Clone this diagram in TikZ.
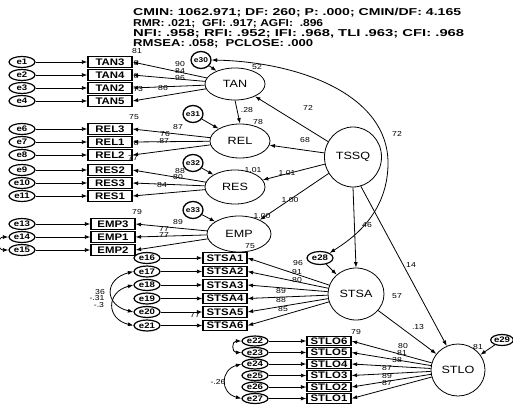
\documentclass[tikz,border=0pt]{standalone}
\usepackage{graphicx}
\usepackage{fontspec}
\setmainfont[FakeStretch=1.2]{Liberation Sans}
\newfontfamily\hdr{Liberation Sans}
\usetikzlibrary{arrows.meta,shapes.geometric}
\newcommand{\hdrline}[2]{\resizebox{#1pt}{\height}{#2}}
\begin{document}
\begin{tikzpicture}[x=1pt,y=-1pt,
 every node/.style={inner sep=0pt},
 tip/.tip={Latex[length=5.5pt,width=4pt]},
 arr/.style={-tip, line width=0.8pt},
 carr/.style={tip-tip, line width=0.8pt},
 obs/.style={draw, line width=1.2pt, minimum width=44pt, minimum height=10.5pt, font=\fontsize{9.5}{9.5}\selectfont\bfseries},
 err/.style={draw, ellipse, line width=1.2pt, minimum width=26pt, minimum height=11pt, font=\fontsize{8}{8}\selectfont\bfseries},
 derr/.style={draw, ellipse, line width=1.3pt, minimum width=20pt, minimum height=17pt, font=\fontsize{7}{7}\selectfont\bfseries},
 lat/.style={draw, ellipse, line width=0.8pt, font=\fontsize{10.5}{10.5}\selectfont},
 lab/.style={font=\fontsize{7.2}{7.2}\selectfont},
 hd/.style={anchor=west, font=\hdr\bfseries\fontsize{10}{10}\selectfont},
]
\useasboundingbox (0,0) rectangle (513,404);
% header
\node[hd] (h1) at (133,13) {\hdrline{328}{CMIN: 1062.971; DF: 260; P: .000; CMIN/DF: 4.165}};
\node[hd] (h2) at (133,23.5) {\hdrline{190}{RMR: .021;\ \ GFI: .917; AGFI:\ \ .896}};
\node[hd] (h3) at (133,33.5) {\hdrline{331}{NFI: .958;\ RFI: .952;\ IFI: .968,\ TLI\ .963;\ CFI: .968}};
\node[hd] (h4) at (133,43.5) {\hdrline{180}{RMSEA: .058;\ \ PCLOSE: .000}};
% TAN
\foreach \n/\t/\y in {1/TAN3/62,2/TAN4/75,3/TAN2/88,4/TAN5/101}{
  \node[err] (e\n) at (22,\y) {e\n};
  \node[obs] (\t) at (110,\y) {\t};
  \draw[arr] (e\n) -- (\t);
}
\node[lat, minimum width=60pt, minimum height=32pt] (TAN) at (235,84) {TAN};
\node[derr] (e30) at (201,60) {e30};
\foreach \t in {TAN3,TAN4,TAN2,TAN5}{\draw[arr] (TAN) -- (\t.east);}
% REL
\foreach \n/\t/\y in {6/REL3/129,7/REL1/142,8/REL2/155}{
  \node[err] (e\n) at (22,\y) {e\n};
  \node[obs] (\t) at (110,\y) {\t};
  \draw[arr] (e\n) -- (\t);
}
\node[lat, minimum width=60pt, minimum height=34pt] (REL) at (240,141) {REL};
\node[derr] (e31) at (193,114) {e31};
\foreach \t in {REL3,REL1,REL2}{\draw[arr] (REL) -- (\t.east);}
% RES
\foreach \n/\t/\y in {9/RES2/170,10/RES3/183,11/RES1/196}{
  \node[err] (e\n) at (22,\y) {e\n};
  \node[obs] (\t) at (110,\y) {\t};
  \draw[arr] (e\n) -- (\t);
}
\node[lat, minimum width=60pt, minimum height=34pt] (RES) at (235,187) {RES};
\node[derr] (e32) at (193,163) {e32};
\foreach \t in {RES2,RES3,RES1}{\draw[arr] (RES) -- (\t.east);}
% EMP
\foreach \n/\t/\y in {13/EMP3/224,14/EMP1/237,15/EMP2/250}{
  \node[err] (e\n) at (22,\y) {e\n};
  \node[obs] (\t) at (113,\y) {\t};
  \draw[arr] (e\n) -- (\t);
}
\node[lat, minimum width=64pt, minimum height=36pt] (EMP) at (239,234) {EMP};
\node[derr] (e33) at (193,210) {e33};
\foreach \t in {EMP3,EMP1,EMP2}{\draw[arr] (EMP) -- (\t.east);}
\draw[carr] (e14.west) to[out=180,in=180,looseness=2.2] (e15.west);
% TSSQ
\node[lat, minimum width=57pt, minimum height=60pt] (TSSQ) at (353,157) {TSSQ};
% STSA
\foreach \n/\t/\y in {16/STSA1/258,17/STSA2/271.5,18/STSA3/285,19/STSA4/298.5,20/STSA5/312,21/STSA6/325.5}{
  \node[err] (e\n) at (147,\y) {e\n};
  \node[obs] (\t) at (225,\y) {\t};
  \draw[arr] (e\n) -- (\t);
}
\node[lat, minimum width=56pt, minimum height=52pt] (STSA) at (356,294) {STSA};
\node[err, minimum height=13pt] (e28) at (320,258) {e28};
\foreach \t in {STSA1,STSA2,STSA3,STSA4,STSA5,STSA6}{\draw[arr] (STSA) -- (\t.east);}
\draw[carr] (e17.west) .. controls (104,279) and (104,305) .. (e20.west);
\draw[carr] (e18.west) .. controls (106,292) and (106,319) .. (e21.west);
% STLO
\foreach \n/\t/\y in {22/STLO6/341,23/STLO5/352.5,24/STLO4/364,25/STLO3/375.5,26/STLO2/387,27/STLO1/398.5}{
  \node[err, minimum height=10pt] (e\n) at (255,\y) {e\n};
  \node[obs, minimum height=9.5pt] (\t) at (329,\y) {\t};
  \draw[arr] (e\n) -- (\t);
}
\node[lat, minimum width=54pt, minimum height=52pt] (STLO) at (458,370) {STLO};
\node[err, minimum width=22pt, minimum height=11pt] (e29) at (502,340) {e29};
\foreach \t in {STLO6,STLO5,STLO4,STLO3,STLO2,STLO1}{\draw[arr] (STLO) -- (\t.east);}
\draw[carr] (e22.west) to[out=180,in=180,looseness=2.2] (e23.west);
\draw[carr] (e24.west) .. controls (220,370) and (220,393) .. (e27.west);
% structural paths
\draw[arr] (TSSQ) -- (TAN);
\draw[arr] (TSSQ) -- (REL);
\draw[arr] (TSSQ) -- (RES);
\draw[arr] (TSSQ) -- (EMP);
\draw[arr] (TSSQ.south) -- (STSA.north);
\draw[arr] (TSSQ.-75) -- (STLO.115);
\draw[arr] (STSA) -- (STLO);
\draw[arr] (TAN.south) -- (REL.north);
\draw[arr] (e30) -- (TAN);
\draw[arr] (e31) -- (REL);
\draw[arr] (e32) -- (RES);
\draw[arr] (e33) -- (EMP);
\draw[arr] (e28) -- (STSA);
\draw[arr] (e29) -- (STLO);
\draw[carr] (e30.east) .. controls (300,62) and (388,95) .. (388,163) .. controls (388,215) and (350,240) .. (e28.north east);
% labels
\begin{scope}[every node/.append style={lab}]
\node (l1) at (137,51.5) {81};
\node at (180,64) {90};
\node at (180,71) {84};
\node at (180,78.5) {96};
\node at (163,88) {86};
\node at (137,89) {.73};
\node at (135,63.5) {.8};
\node at (135,76.5) {.8};
\node at (257,67) {52};
\node at (247,110) {.28};
\node at (258,122) {78};
\node at (308,108) {72};
\node at (305,140) {68};
\node at (397,134) {72};
\node at (134,117) {75};
\node at (178,127) {87};
\node at (165,134) {76};
\node at (163,141) {.87};
\node at (135,143) {.8};
\node at (133,158) {77};
\node at (180,171) {88};
\node at (178,177.5) {80};
\node at (162,185) {84};
\node at (253,170) {1.01};
\node at (287,173) {1.01};
\node at (137,212) {79};
\node at (178,222) {89};
\node at (164,229) {77};
\node at (164,235.5) {77};
\node at (290,200) {1.00};
\node at (262,216) {1.00};
\node at (250,246) {75};
\node at (367,225) {46};
\node at (411,265) {14};
\node at (298,263) {96};
\node at (297,272) {91};
\node at (297,280.5) {80};
\node at (281,291) {89};
\node at (281,300) {88};
\node at (283,309) {85};
\node at (397,296) {57};
\node at (418,327) {.13};
\node at (195,315) {77};
\node at (100,292) {36};
\node at (97,298.5) {-.31};
\node at (99,305) {-.3};
\node at (356,332) {79};
\node at (403,346) {80};
\node at (402,353) {81};
\node at (397,360.5) {38};
\node at (387,368) {87};
\node at (387,376) {89};
\node at (387,383) {87};
\node at (478,347) {81};
\node at (218,382) {-.26};
\end{scope}
\end{tikzpicture}
\end{document}
